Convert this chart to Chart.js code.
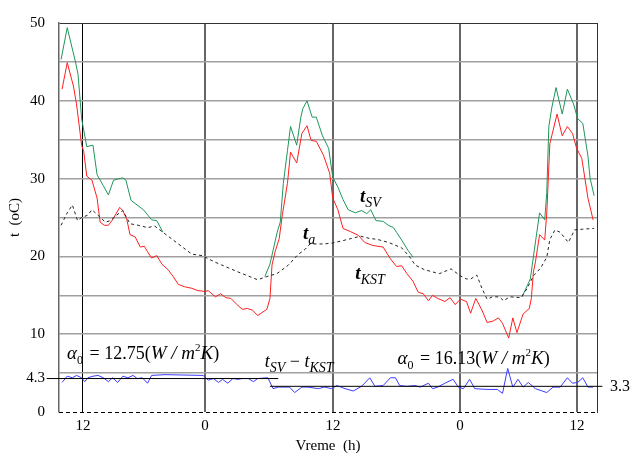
<!DOCTYPE html>
<html>
<head>
<meta charset="utf-8">
<script src="https://cdn.jsdelivr.net/npm/chart.js@4"></script>
<style>
html, body { margin: 0; padding: 0; background: #fff; }
#okvir { width: 632px; height: 455px; }
</style>
</head>
<body>
<div id="okvir"><canvas id="grafik"></canvas></div>
<script>
// x = sati od pocetka merenja, oznake na osi su doba dana
const oznakeSati = [2.33, 14.19, 26.63, 38.97, 50.34];
const natpisiSati = ['12', '0', '12', '0', '12'];
const yPodela = [0, 4.3, 5, 10, 15, 20, 25, 30, 35, 40, 45, 50];
const yNatpisi = [0, 4.3, 10, 20, 30, 40, 50];

// t_SV - temperatura spoljne povrsine (noću se poklapa sa t_a)
const tSV = [[0.2,45.3],[0.8,49.4],[1.6,45.0],[1.85,43.4],[2.2,37.7],[2.7,34.1],[3.3,34.3],[3.7,30.5],[4.3,29.1],[4.8,27.9],[5.3,29.8],[6.2,30.1],[6.5,29.8],[7.0,27.2],[8.2,26.0],[9.0,24.7],[9.5,24.6],[10.1,23.1],[10.5,null],
  [20.0,17.4],[20.5,19.0],[21.2,23.1],[21.5,24.4],[21.8,29.4],[22.2,33.6],[22.5,36.7],[23.1,34.3],[23.5,37.9],[23.7,39.0],[24.1,40.0],[24.6,37.9],[25.0,37.9],[25.6,35.5],[26.2,33.9],[26.6,30.2],[27.1,28.9],[27.6,27.3],[28.1,26.0],[28.8,25.6],[29.4,25.9],[29.9,25.5],[30.3,26.0],[30.8,24.6],[31.5,24.5],[32.0,24.0],[32.5,23.7],[32.8,23.1],[33.3,22.1],[33.9,20.8],[34.4,19.9],[35.0,null],
  [45.0,14.8],[45.8,17.1],[46.2,20.9],[46.7,25.6],[47.2,24.7],[47.4,28.2],[47.6,36.7],[47.9,39.2],[48.3,41.7],[48.9,38.3],[49.4,41.5],[50.0,39.6],[50.4,37.7],[50.9,37.1],[51.4,32.9],[51.6,30.1],[52.0,27.8]];

// t_KST
const tKST = [[0.3,41.5],[0.8,44.9],[1.4,41.9],[1.7,39.6],[2.2,34.3],[2.4,33.5],[2.7,30.3],[3.2,29.8],[3.7,27.5],[4.0,24.4],[4.4,24.0],[4.8,24.0],[5.2,24.7],[5.9,26.3],[6.2,25.9],[6.6,24.7],[6.9,22.8],[7.4,22.5],[7.9,21.2],[8.3,21.3],[8.6,20.6],[9.0,19.8],[9.5,20.1],[10.0,19.0],[10.6,18.3],[11.1,17.4],[11.6,16.4],[12.2,16.1],[12.9,15.9],[13.5,15.6],[14.2,15.5],[14.5,15.6],[15.2,14.8],[15.7,15.2],[16.2,14.7],[16.7,14.6],[17.3,13.8],[17.8,13.2],[18.3,13.3],[18.8,13.1],[19.3,12.4],[20.2,13.2],[20.5,14.6],[20.7,18.9],[21.0,20.6],[21.4,22.3],[21.7,25.3],[22.2,29.4],[22.5,33.4],[23.1,32.0],[23.6,35.8],[24.1,36.8],[24.5,34.9],[25.0,34.8],[25.7,33.0],[26.3,30.7],[26.6,27.5],[27.1,26.0],[27.6,23.6],[28.3,23.2],[29.1,22.7],[29.7,21.8],[30.5,21.4],[31.5,21.2],[32.2,19.7],[32.8,18.7],[33.3,18.8],[33.8,17.8],[34.4,16.8],[34.9,15.4],[35.4,15.2],[35.9,14.3],[36.3,15.0],[36.8,14.6],[37.5,14.2],[38.0,14.7],[38.5,13.8],[39.0,14.5],[39.6,14.2],[40.0,12.7],[40.5,14.6],[41.1,13.1],[41.6,11.5],[42.2,11.7],[42.7,12.1],[43.1,11.4],[43.7,9.5],[44.1,12.1],[44.5,10.2],[45.1,12.6],[45.7,13.3],[45.9,14.6],[46.1,18.0],[46.3,19.3],[46.7,22.8],[47.2,22.1],[47.4,25.6],[47.7,34.5],[48.4,38.3],[48.9,35.5],[49.4,36.7],[49.9,35.8],[50.3,33.9],[50.8,32.6],[51.4,27.5],[51.9,24.7]];

// t_a - temperatura vazduha
const tA = [[0.2,24.0],[0.8,25.6],[1.3,26.6],[1.8,24.6],[2.2,25.0],[2.8,25.3],[3.2,26.0],[3.7,25.4],[4.5,24.4],[5.0,24.6],[5.6,25.3],[6.2,25.9],[6.9,24.2],[7.7,24.0],[8.6,23.7],[9.3,23.9],[10.1,23.1],[11.0,22.2],[12.0,21.2],[12.9,20.3],[13.9,20.1],[14.5,19.7],[15.1,19.3],[15.8,18.9],[17.4,18.0],[19.3,17.0],[20.2,17.4],[21.2,17.8],[22.3,18.9],[23.2,20.2],[23.9,20.9],[24.4,21.6],[25.7,21.6],[26.5,21.7],[27.5,22.0],[28.4,22.3],[29.3,22.6],[30.2,22.3],[30.9,22.2],[32.0,21.8],[33.3,21.1],[34.1,19.9],[34.6,18.9],[35.5,18.3],[36.6,17.9],[37.0,17.8],[38.1,18.4],[39.0,17.5],[39.6,17.1],[40.0,17.1],[40.6,17.6],[41.1,15.9],[41.6,14.5],[42.1,14.8],[42.8,14.8],[43.2,14.3],[43.8,14.8],[44.9,14.7],[45.5,15.9],[46.1,17.5],[46.8,18.5],[47.4,19.9],[47.7,22.2],[48.2,23.4],[48.7,23.1],[49.5,21.8],[50.1,23.4],[50.9,23.5],[52.0,23.6]];

// t_SV - t_KST
const razlika = [[0.3,3.8],[0.8,4.6],[1.3,4.4],[1.7,4.7],[2.2,4.4],[2.5,3.9],[2.8,4.4],[3.3,4.6],[3.8,4.7],[4.3,4.4],[4.8,3.9],[5.2,4.4],[5.7,3.8],[6.2,4.6],[6.7,4.4],[7.2,4.7],[7.6,4.3],[8.1,4.4],[8.6,3.7],[9.0,4.7],[10.3,4.8],[14.0,4.7],[14.5,4.1],[15.0,4.3],[15.5,3.8],[15.9,4.2],[16.4,3.7],[16.9,4.3],[17.4,4.2],[17.8,4.3],[18.4,4.3],[18.9,3.9],[19.3,4.3],[20.3,4.4],[20.8,3.0],[21.3,3.2],[22.0,3.2],[22.4,3.2],[22.9,2.5],[23.6,3.2],[24.2,3.2],[25.2,3.0],[25.8,3.2],[26.5,3.0],[27.0,3.4],[27.8,3.0],[28.6,2.7],[29.4,3.3],[30.2,4.4],[30.7,3.3],[31.5,3.4],[32.2,4.4],[32.7,4.4],[33.1,3.4],[33.8,3.3],[34.6,3.4],[35.1,3.2],[35.9,3.7],[36.3,3.0],[36.8,3.2],[37.5,3.7],[38.3,4.2],[38.8,3.2],[39.3,3.0],[39.9,4.2],[40.4,3.0],[41.6,2.9],[42.6,2.9],[43.1,2.4],[43.6,5.6],[44.1,3.2],[44.6,4.2],[45.1,3.2],[45.6,3.8],[46.3,3.0],[47.4,2.5],[48.0,3.2],[48.7,3.2],[49.4,4.4],[49.9,3.7],[50.4,3.8],[50.9,4.4],[51.4,3.2],[51.9,3.2]];

// srednje vrednosti razlike za dva perioda
const srednja1 = [[-1.2,4.3],[21.3,4.3]];
const srednja2 = [[20.5,3.3],[52.8,3.3]];

const SERIF = 'Liberation Serif, Times New Roman, serif';

function pisi(ctx, delovi, x, y) {
    delovi.forEach(function (d) {
        ctx.font = d[1];
        ctx.fillText(d[0], x, y + (d[2] || 0));
        x += ctx.measureText(d[0]).width + (d[3] || 0);
    });
}

const natpisi = {
    id: 'natpisi',
    afterDatasetsDraw(chart) {
        const ctx = chart.ctx;
        const sx = chart.scales.x, sy = chart.scales.y;
        const px = v => sx.getPixelForValue(v);
        const py = v => sy.getPixelForValue(v);
        const T = 'italic bold 19px ' + SERIF;
        const S = 'italic 14px ' + SERIF;
        const A = 'italic 19px ' + SERIF;
        const N = '18px ' + SERIF;
        ctx.save();
        // isprekidana donja osa na nuli
        ctx.strokeStyle = '#000';
        ctx.lineWidth = 1;
        ctx.setLineDash([4, 3]);
        ctx.beginPath();
        ctx.moveTo(chart.chartArea.left, Math.round(py(0)) + 0.5);
        ctx.lineTo(chart.chartArea.right, Math.round(py(0)) + 0.5);
        ctx.stroke();
        ctx.setLineDash([]);

        ctx.fillStyle = '#000';
        ctx.textBaseline = 'alphabetic';
        pisi(ctx, [['t', T], ['SV', S, 5]], px(29.25), py(27.0));
        pisi(ctx, [['t', T], ['a', S, 5]], px(23.7), py(22.2));
        pisi(ctx, [['t', T], ['KST', S, 5]], px(28.8), py(17.1));
        pisi(ctx, [['α', A], ['0', '12px ' + SERIF, 5, 2], [' = 12.75(', N], ['W / m', A], ['2', '11px ' + SERIF, -8], ['K', A], [')', N]], px(0.78), py(6.85));
        pisi(ctx, [['α', A], ['0', '12px ' + SERIF, 5, 2], [' = 16.13(', N], ['W / m', A], ['2', '11px ' + SERIF, -8], ['K', A], [')', N]], px(32.9), py(6.2));
        pisi(ctx, [['t', 'italic 18px ' + SERIF], ['SV', S, 5], [' − ', N], ['t', 'italic 18px ' + SERIF], ['KST', S, 5]], px(20.0), py(5.8));
        ctx.font = '16px ' + SERIF;
        ctx.textBaseline = 'middle';
        ctx.fillText('3.3', px(53.55), py(3.3));
        ctx.restore();
    }
};

new Chart(document.getElementById('grafik'), {
    type: 'line',
    data: {
        datasets: [
            { label: 't_a', data: tA, borderColor: '#222', borderDash: [3, 3], borderWidth: 1 },
            { label: 'sr1', data: srednja1, borderColor: '#000', borderWidth: 1, clip: false },
            { label: 'sr2', data: srednja2, borderColor: '#000', borderWidth: 1, clip: false },
            { label: 't_SV - t_KST', data: razlika, borderColor: 'rgb(60, 60, 255)', borderWidth: 1 },
            { label: 't_SV', data: tSV, borderColor: 'rgb(30, 150, 90)', borderWidth: 1, spanGaps: false },
            { label: 't_KST', data: tKST, borderColor: 'rgb(255, 30, 30)', borderWidth: 1 }
        ]
    },
    options: {
        responsive: true,
        maintainAspectRatio: false,
        animation: false,
        layout: { padding: { top: 18, right: 35, left: 0, bottom: 0 } },
        elements: { point: { radius: 0 }, line: { tension: 0 } },
        plugins: { legend: { display: false }, tooltip: { enabled: false } },
        scales: {
            x: {
                type: 'linear',
                min: 0,
                max: 52.28,
                afterBuildTicks: s => { s.ticks = oznakeSati.map(v => ({ value: v })); },
                afterFit: s => { s.height = 43; },
                ticks: {
                    callback: (v, i) => natpisiSati[i],
                    color: '#000',
                    font: { family: SERIF, size: 15 },
                    padding: 5,
                    maxRotation: 0,
                    autoSkip: false
                },
                grid: {
                    drawTicks: false,
                    color: c => c.index === 0 ? '#000' : '#666',
                    lineWidth: c => c.index === 0 ? 1 : 2
                },
                border: { display: false },
                title: { display: true, text: 'Vreme  (h)', color: '#000', font: { family: SERIF, size: 15 }, padding: { top: 0, bottom: 0 } }
            },
            y: {
                min: 0,
                max: 50,
                afterBuildTicks: s => { s.ticks = yPodela.map(v => ({ value: v })); },
                afterFit: s => { s.width = 59; },
                ticks: {
                    callback: v => yNatpisi.includes(v) ? String(v) : '',
                    color: '#000',
                    font: { family: SERIF, size: 15 },
                    padding: 14,
                    autoSkip: false
                },
                grid: {
                    drawTicks: false,
                    color: c => (c.tick.value === 0 || c.tick.value === 4.3) ? 'rgba(0,0,0,0)' : (c.tick.value === 50 ? '#333' : '#a0a0a0'),
                    lineWidth: c => c.tick.value === 50 ? 1 : 1.5
                },
                border: { color: '#666', width: 1.5 },
                title: { display: true, text: 't  (oC)', color: '#000', font: { family: SERIF, size: 15 }, padding: { top: 6, bottom: 0 } }
            },
            y2: {
                position: 'right',
                min: 0,
                max: 50,
                afterFit: s => { s.width = 0; },
                ticks: { display: false },
                grid: { display: false },
                border: { color: '#333', width: 1 }
            }
        }
    },
    plugins: [natpisi]
});
</script>
</body>
</html>
